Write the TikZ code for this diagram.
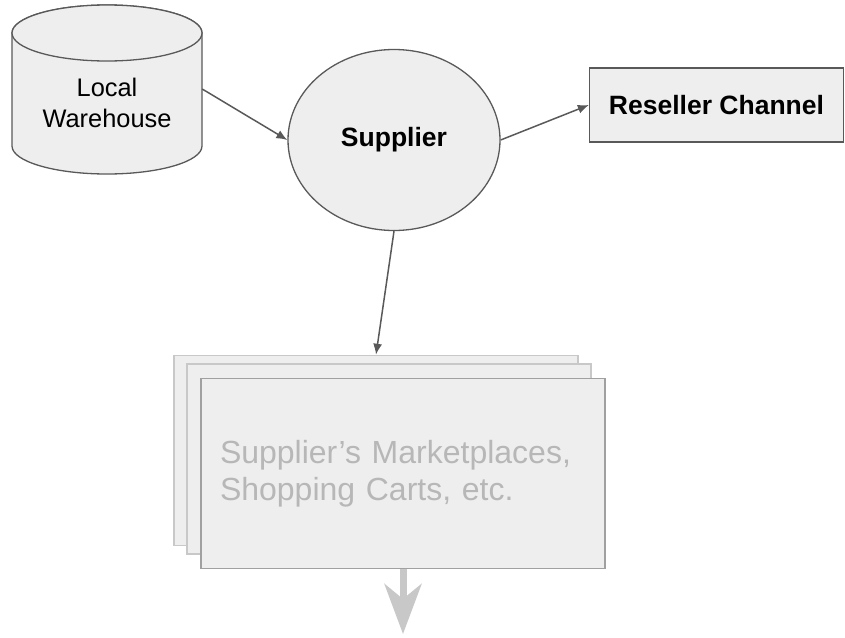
\documentclass[tikz,border=0pt]{standalone}
\usepackage{fontspec}
\setmainfont{Liberation Sans}
\usetikzlibrary{shapes.geometric,arrows.meta}
\definecolor{boxfill}{HTML}{EEEEEE}
\definecolor{edgegray}{HTML}{595959}
\definecolor{fadegray}{HTML}{C8C8C8}
\definecolor{frontgray}{HTML}{A0A0A0}
\definecolor{fadetext}{HTML}{B7B7B7}
\begin{document}
\begin{tikzpicture}[x=1pt,y=-1pt,
    shapebox/.style={draw=edgegray, fill=boxfill, line width=1.3pt, inner sep=0pt},
    conn/.style={draw=edgegray, line width=1.5pt, -{Latex[length=11pt,width=9pt]}},
    stackbox/.style={draw=fadegray, fill=boxfill, line width=1.5pt, minimum width=404pt, minimum height=190pt, inner sep=0pt}]
    % Rahmen
    \useasboundingbox (0,0) rectangle (845,637);
    % Lager als Zylinder
    \path[shapebox] (12,33) -- (12,146) arc[start angle=180, end angle=0, x radius=95, y radius=28]
        -- (202,33) arc[start angle=0, end angle=-180, x radius=95, y radius=28] -- cycle;
    \draw[shapebox] (107,33) ellipse[x radius=95, y radius=28];
    \node[minimum width=190pt, minimum height=170pt, inner sep=0pt,
          label={[align=center, yshift=-14pt, font=\fontsize{25.4}{31}\selectfont]center:Local\\Warehouse}] (warehouse) at (107,89) {};
    % Lieferant, Wiederverkauf
    \node[shapebox, ellipse, minimum width=212pt, minimum height=181pt, font=\fontsize{26.5}{32}\selectfont\bfseries] (supplier) at (394,140) {Supplier};
    \node[shapebox, rectangle, minimum width=254pt, minimum height=74pt, font=\fontsize{26.5}{32}\selectfont\bfseries] (reseller) at (716.5,105) {Reseller Channel};
    % Stapel der Marktplaetze
    \node[stackbox] (market3) at (376,450.5) {};
    \node[stackbox] (market2) at (389,459) {};
    \node[stackbox, draw=frontgray, text=fadetext, text width=366pt, align=left, font=\fontsize{32}{37}\selectfont] (market) at (403,473.5) {Supplier’s Marketplaces,\\Shopping Carts, etc.};
    \coordinate (down) at (403,634);
    % Verbindungen
    \draw[conn] (warehouse.east) -- (supplier.west);
    \draw[conn] (supplier.east) -- (reseller.west);
    \draw[conn] (supplier.south) -- (market3.north);
    \draw[draw=fadegray, line width=7pt, -{Stealth[length=50pt,width=37pt,inset=15pt]}] (market.south) -- (down);
\end{tikzpicture}
\end{document}
